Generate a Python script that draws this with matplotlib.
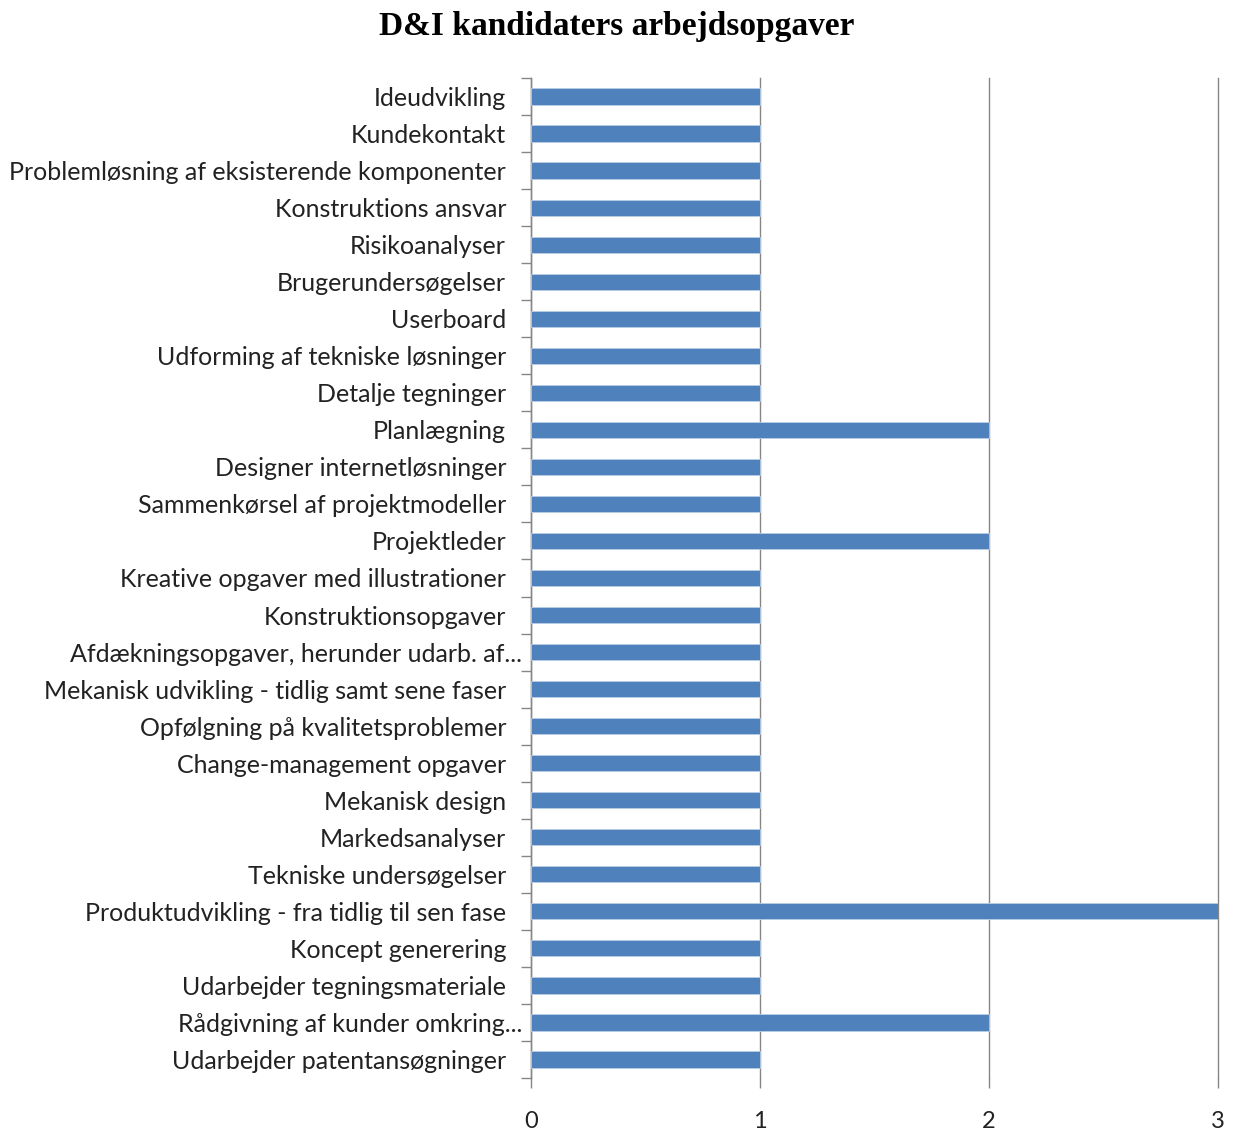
import matplotlib.pyplot as plt
import matplotlib.transforms as mtransforms
import numpy as np

# categories listed top to bottom, as in the chart
tasks = [
    "Ideudvikling",
    "Kundekontakt",
    "Problemløsning af eksisterende komponenter",
    "Konstruktions ansvar",
    "Risikoanalyser",
    "Brugerundersøgelser",
    "Userboard",
    "Udforming af tekniske løsninger",
    "Detalje tegninger",
    "Planlægning",
    "Designer internetløsninger",
    "Sammenkørsel af projektmodeller",
    "Projektleder",
    "Kreative opgaver med illustrationer",
    "Konstruktionsopgaver",
    "Afdækningsopgaver, herunder udarb. af...",
    "Mekanisk udvikling - tidlig samt sene faser",
    "Opfølgning på kvalitetsproblemer",
    "Change-management opgaver",
    "Mekanisk design",
    "Markedsanalyser",
    "Tekniske undersøgelser",
    "Produktudvikling - fra tidlig til sen fase",
    "Koncept generering",
    "Udarbejder tegningsmateriale",
    "Rådgivning af kunder omkring...",
    "Udarbejder patentansøgninger",
]
counts = [1, 1, 1, 1, 1, 1, 1, 1, 1, 2, 1, 1, 2, 1, 1, 1, 1, 1, 1, 1, 1, 1, 3, 1, 1, 2, 1]
xticks = [0, 1, 2, 3]

bar_color = "#4F81BD"
grid_color = "#868686"

fig = plt.figure(figsize=(12.33, 11.31), dpi=100)
ax = fig.add_axes([0.4307, 0.0469, 0.5571, 0.8841])

y = np.arange(len(tasks))
ax.barh(y, counts, height=0.44, color=bar_color, edgecolor="#B9CDE5", linewidth=0.6, zorder=3)

ax.set_ylim(len(tasks) - 0.5, -0.5)
ax.set_xlim(0, 3)

# labels centred on bars, tick marks between categories
ax.set_yticks(y)
ax.set_yticklabels(tasks, fontfamily="Lato", fontsize=18, color="#222222")
ax.tick_params(axis="y", which="major", length=0, pad=18)
ax.set_yticks(np.arange(len(tasks) + 1) - 0.5, minor=True)
ax.tick_params(axis="y", which="minor", length=7, color=grid_color, width=1)

# truncated labels sit closer to the axis in the original
shift = mtransforms.ScaledTranslation(16 / 100, 0, fig.dpi_scale_trans)
for lbl in ax.get_yticklabels():
    if lbl.get_text().endswith("..."):
        lbl.set_transform(lbl.get_transform() + shift)

ax.set_xticks(xticks)
ax.set_xticklabels([str(t) for t in xticks], fontfamily="Lato", fontsize=17, color="#222222")
ax.tick_params(axis="x", length=7, color=grid_color, width=1, pad=17)

ax.grid(axis="x", color=grid_color, linewidth=1, zorder=0)
for line in ax.get_xgridlines():
    line.set_clip_on(False)
for side in ["top", "right", "bottom"]:
    ax.spines[side].set_visible(False)
ax.spines["left"].set_color(grid_color)
ax.spines["left"].set_linewidth(1)

fig.text(0.5, 0.977, "D&I kandidaters arbejdsopgaver", ha="center", va="center",
         fontfamily="Liberation Serif", fontweight="bold", fontsize=24)

fig.savefig("out.png", dpi=100)
